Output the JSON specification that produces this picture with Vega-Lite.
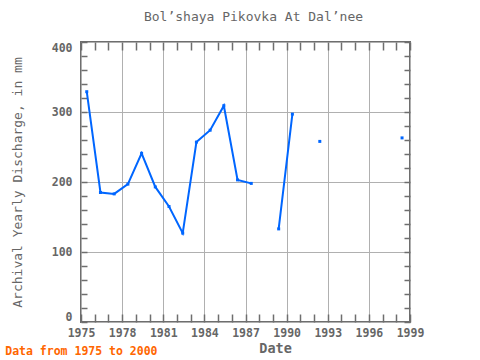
{
  "$schema": "https://vega.github.io/schema/vega-lite/v6.json",
  "background": "white",
  "padding": {"left": 5, "top": 10, "right": 5, "bottom": 0},
  "title": {"text": "Data from 1975 to 2000", "orient": "bottom", "anchor": "start", "font": "DejaVu Sans Mono", "fontSize": 11.5, "fontWeight": "bold", "color": "#ff6600", "offset": -10, "dx": -5},
  "config": {
    "view": {"stroke": "#6e6e6e", "strokeWidth": 2},
    "axis": {"labelFont": "DejaVu Sans Mono", "titleFont": "DejaVu Sans Mono", "labelColor": "#666666", "titleColor": "#666666", "tickColor": "#6e6e6e", "gridColor": "#b0b0b0", "domain": false}
  },
  "vconcat": [
    {
      "title": {"text": "Bol’shaya Pikovka At Dal’nee", "font": "DejaVu Sans Mono", "fontSize": 13, "fontWeight": "normal", "color": "#666666", "offset": 17, "dx": 8},
      "width": 329,
      "height": 280,
      "data": {"values": [
        {"t": 1975.42, "v": 329},
        {"t": 1976.42, "v": 185},
        {"t": 1977.42, "v": 183},
        {"t": 1978.42, "v": 197},
        {"t": 1979.42, "v": 241},
        {"t": 1980.42, "v": 193},
        {"t": 1981.42, "v": 165},
        {"t": 1982.42, "v": 127},
        {"t": 1983.42, "v": 257},
        {"t": 1984.42, "v": 274},
        {"t": 1985.42, "v": 309},
        {"t": 1986.42, "v": 203},
        {"t": 1987.42, "v": 198},
        {"t": 1988.42, "v": null},
        {"t": 1989.42, "v": 133},
        {"t": 1990.42, "v": 297},
        {"t": 1991.42, "v": null},
        {"t": 1992.42, "v": 258},
        {"t": 1993.42, "v": null},
        {"t": 1997.42, "v": null},
        {"t": 1998.42, "v": 263}
      ]},
      "layer": [
        {
          "mark": {"type": "line", "color": "#0066ff", "strokeWidth": 2, "invalid": "break-paths-show-domains"},
          "encoding": {
            "x": {"field": "t", "type": "quantitative", "scale": {"domain": [1975, 1999], "nice": false, "zero": false},
              "axis": {"orient": "bottom", "values": [1975,1976,1977,1978,1979,1980,1981,1982,1983,1984,1985,1986,1987,1988,1989,1990,1991,1992,1993,1994,1995,1996,1997,1998,1999],
                "format": "d", "labelExpr": "(datum.value - 1975) % 3 === 0 ? datum.label : ''", "labelFontSize": 11.5, "labelFontWeight": "bold",
                "tickSize": -8, "tickWidth": 1.5, "labelPadding": 13, "grid": true,
                "gridOpacity": {"condition": {"test": "(datum.value - 1975) % 3 === 0", "value": 1}, "value": 0},
                "labelFlush": false, "labelOverlap": false,
                "title": "Date", "titleFontSize": 13.5, "titleFontWeight": "bold", "titlePadding": 3, "titleX": 194}},
            "y": {"field": "v", "type": "quantitative", "scale": {"domain": [0, 400], "nice": false},
              "axis": {"orient": "left", "values": [0,20,40,60,80,100,120,140,160,180,200,220,240,260,280,300,320,340,360,380,400],
                "labelExpr": "datum.value % 100 === 0 ? datum.label : ''", "labelFontSize": 11.5, "labelFontWeight": "bold",
                "tickSize": -6, "tickWidth": 1.5, "labelPadding": 15, "grid": true,
                "gridOpacity": {"condition": {"test": "datum.value % 100 === 0", "value": 1}, "value": 0},
                "labelOverlap": false, "labelFlush": true, "labelFlushOffset": 0,
                "title": "Archival Yearly Discharge, in mm", "titleFontSize": 13, "titleFontWeight": "normal", "titlePadding": 27}}
          }
        },
        {
          "mark": {"type": "point", "filled": true, "shape": "square", "size": 9, "color": "#0066ff", "opacity": 1},
          "encoding": {
            "x": {"field": "t", "type": "quantitative",
              "axis": {"orient": "top", "values": [1975,1976,1977,1978,1979,1980,1981,1982,1983,1984,1985,1986,1987,1988,1989,1990,1991,1992,1993,1994,1995,1996,1997,1998,1999],
                "labels": false, "tickSize": -8, "tickWidth": 1.5, "grid": false, "title": null}},
            "y": {"field": "v", "type": "quantitative",
              "axis": {"orient": "right", "values": [0,20,40,60,80,100,120,140,160,180,200,220,240,260,280,300,320,340,360,380,400],
                "labels": false, "tickSize": -6, "tickWidth": 1.5, "grid": false, "title": null}}
          }
        }
      ],
      "resolve": {"axis": {"x": "independent", "y": "independent"}}
    }
  ]
}
